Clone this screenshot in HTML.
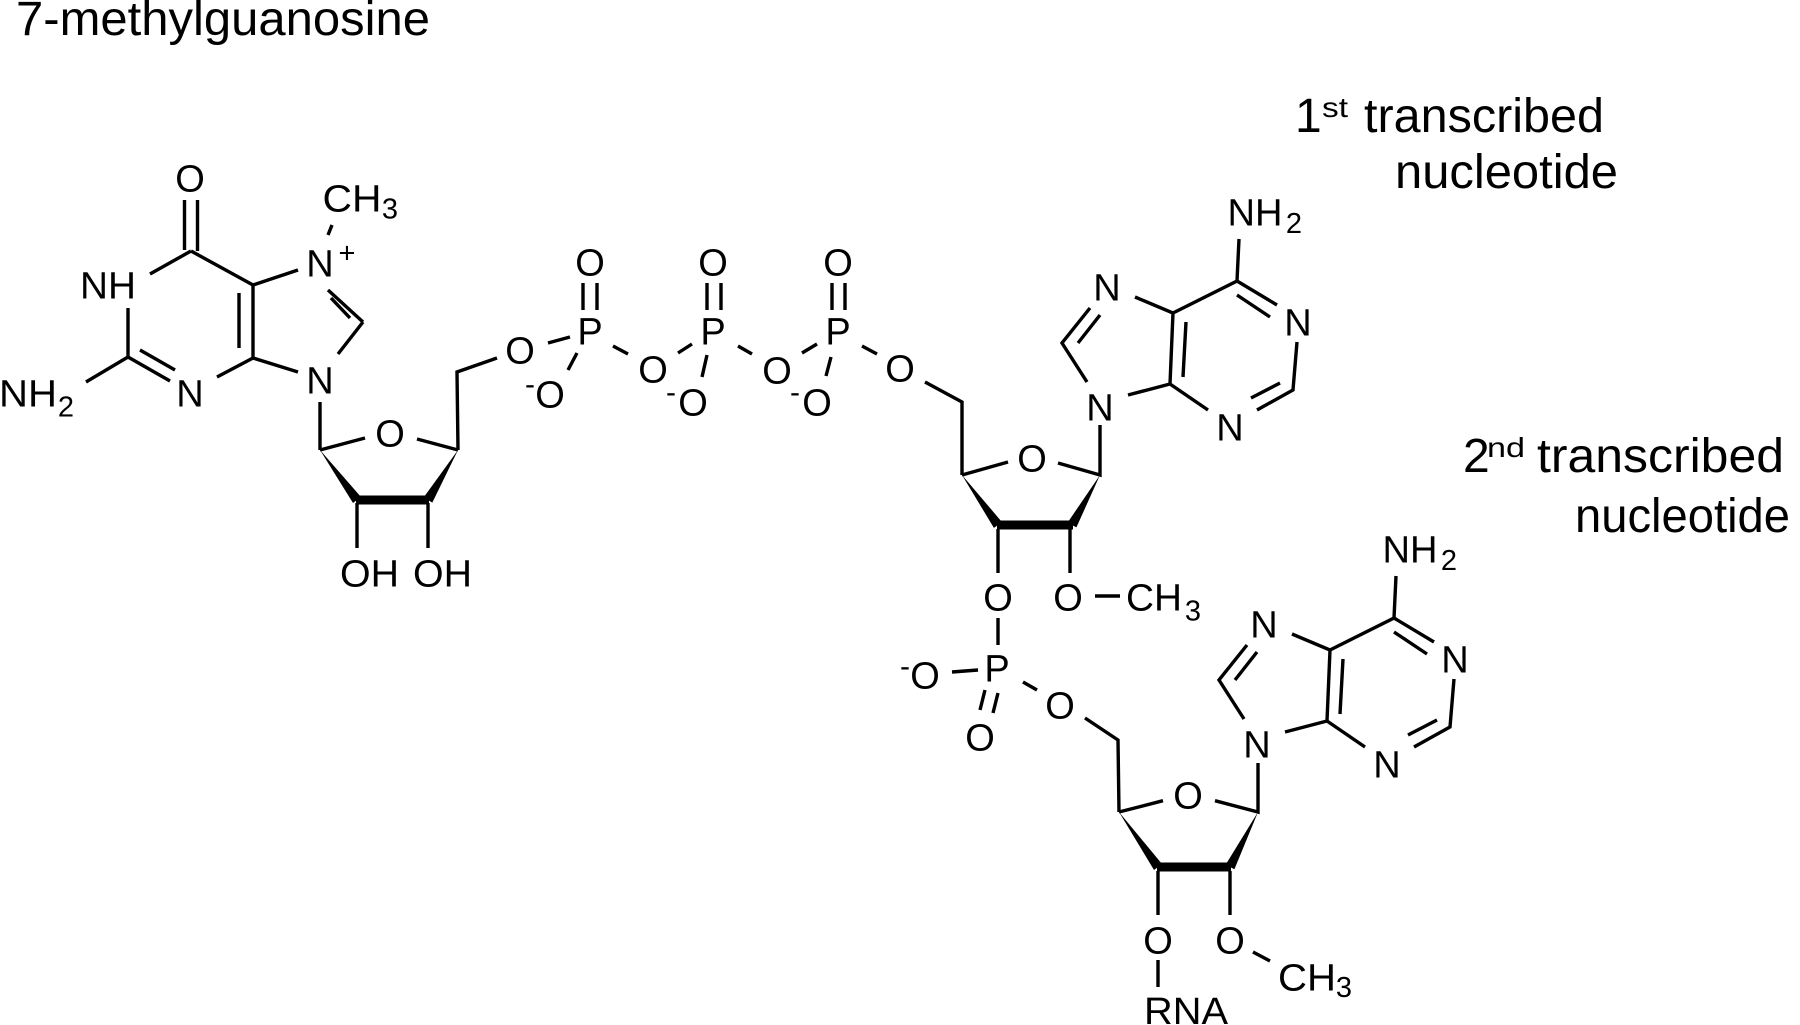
<!DOCTYPE html>
<html><head><meta charset="utf-8"><style>
html,body{margin:0;padding:0;background:#fff;}
svg{display:block;}
.a{font-family:"Liberation Sans",Arial,sans-serif;font-size:38px;text-anchor:middle;fill:#000;}
.s{font-family:"Liberation Sans",Arial,sans-serif;font-size:29px;text-anchor:middle;fill:#000;}
.c{font-family:"Liberation Sans",Arial,sans-serif;font-size:30px;text-anchor:middle;fill:#000;}
.L{font-family:"Liberation Sans",Arial,sans-serif;font-size:48px;fill:#000;}
.Ls{font-family:"Liberation Sans",Arial,sans-serif;font-size:28px;fill:#000;}
.b{fill:none;stroke:#000;stroke-width:3.4;stroke-linecap:butt;stroke-linejoin:miter;}
</style></head><body>
<svg width="1800" height="1025" viewBox="0 0 1800 1025" xmlns="http://www.w3.org/2000/svg">
<rect width="1800" height="1025" fill="#fff"/>

<!-- Titles -->
<text class="L" x="16" y="35" textLength="414" lengthAdjust="spacingAndGlyphs">7-methylguanosine</text>
<text class="L" x="1295" y="132">1</text>
<text class="Ls" x="1322" y="117" textLength="26" lengthAdjust="spacingAndGlyphs">st</text>
<text class="L" x="1364" y="132" textLength="240" lengthAdjust="spacingAndGlyphs">transcribed</text>
<text class="L" x="1395" y="188" textLength="223" lengthAdjust="spacingAndGlyphs">nucleotide</text>
<text class="L" x="1463" y="472">2</text>
<text class="Ls" x="1487" y="457" textLength="38" lengthAdjust="spacingAndGlyphs">nd</text>
<text class="L" x="1537" y="472" textLength="247" lengthAdjust="spacingAndGlyphs">transcribed</text>
<text class="L" x="1575" y="532" textLength="215" lengthAdjust="spacingAndGlyphs">nucleotide</text>

<!-- ===== 7-methylguanine ===== -->
<path class="b" d="M184.5,200 V250 M197.5,200 V251
M191,251 L150,274
M128,308 L128,357
M128,357 L170,381 M140,350 L175,370
M217,377 L253,358
M253,358 L253,285 M239,293 L239,348
M253,285 L191,251
M253,285 L298,270
M328,235 L332,225
M328,290 L363,322 M331,298 L350,318
M363,322 L338,354
M298,372 L253,358
M128,357 L86,382
M320,402 L320,450"/>
<text class="a" x="190" y="191.6">O</text>
<text class="a" x="108" y="298.6" textLength="56" lengthAdjust="spacingAndGlyphs">NH</text>
<text class="a" x="190" y="406.6">N</text>
<text class="a" x="320" y="276.6">N</text>
<text class="s" x="347" y="262.5">+</text>
<text class="a" x="352" y="211.6" textLength="59" lengthAdjust="spacingAndGlyphs">CH</text>
<text class="s" x="390" y="218.4">3</text>
<text class="a" x="320" y="393.6">N</text>
<text class="a" x="28" y="406.6" textLength="58" lengthAdjust="spacingAndGlyphs">NH</text>
<text class="s" x="66" y="416.5">2</text>

<!-- ===== Sugar 1 ===== -->
<path class="b" d="M320,450 L365,438 M417,439 L458,450 M458,450 L457,372 L497,358
M357,503 V548 M428,503 V548"/>
<polygon points="320,450 361,497 353,503" fill="#000"/>
<polygon points="458,450 432.3,502.6 423.7,497.4" fill="#000"/>
<rect x="356" y="495.5" width="73" height="9" fill="#000"/>
<text class="a" x="390" y="446.6">O</text>
<text class="a" x="340" y="586.6" style="text-anchor:start" textLength="59" lengthAdjust="spacingAndGlyphs">OH</text>
<text class="a" x="413" y="586.6" style="text-anchor:start" textLength="59" lengthAdjust="spacingAndGlyphs">OH</text>

<!-- ===== Triphosphate ===== -->
<path class="b" d="M548,343 L570,337
M583,283 V310 M597,283 V310
M577,353 L568,370
M613,346 L628,354
M678,353 L692,344
M707,283 V310 M721,283 V310
M707,355 L702,377
M738,346 L752,354
M802,353 L817,344
M832,283 V310 M845,283 V310
M831,357 L826,376
M862,346 L877,354
M925,382 L962,402 L962,475"/>
<text class="a" x="520" y="363.6">O</text>
<text class="a" x="590" y="344.6">P</text>
<text class="a" x="590" y="275.6">O</text>
<text class="a" x="550" y="407.6">O</text>
<text class="c" x="530" y="394">-</text>
<text class="a" x="653" y="382.6">O</text>
<text class="a" x="713" y="344.6">P</text>
<text class="a" x="713" y="275.6">O</text>
<text class="a" x="693" y="415.6">O</text>
<text class="c" x="671" y="402">-</text>
<text class="a" x="777" y="383.6">O</text>
<text class="a" x="838" y="344.6">P</text>
<text class="a" x="838" y="275.6">O</text>
<text class="a" x="817" y="415.6">O</text>
<text class="c" x="795" y="402">-</text>
<text class="a" x="900" y="381.6">O</text>

<!-- ===== Adenine 1 ===== -->
<g id="ade">
<path class="b" d="M1087,382 L1062,343 L1090,308 M1078,343 L1100,315
M1135,297 L1173,313 L1170,384 M1186,322 L1183,377
M1170,384 L1128,395
M1173,313 L1237,281 L1239,239
M1237,281 L1277,305 M1237,295 L1270,317
M1297,342 L1293,390 L1257,410 M1280,383 L1251,398
M1208,410 L1170,384"/>
<text class="a" x="1100" y="420.6">N</text>
<text class="a" x="1107" y="300.6">N</text>
<text class="a" x="1255" y="225.6" textLength="55" lengthAdjust="spacingAndGlyphs">NH</text>
<text class="s" x="1294" y="233">2</text>
<text class="a" x="1298" y="335.6">N</text>
<text class="a" x="1230" y="440.6">N</text>
</g>

<!-- ===== Sugar 2 ===== -->
<path class="b" d="M1100,425 L1100,475 L1058,463 M1008,462 L962,475
M998,529 V573 M1070,529 V573 M1095,596 L1120,596"/>
<polygon points="962,475 1002.1,522.2 993.9,527.9" fill="#000"/>
<polygon points="1100,475 1076.4,527.4 1067.6,522.6" fill="#000"/>
<rect x="997" y="520.5" width="76" height="9" fill="#000"/>
<text class="a" x="1032" y="471.6">O</text>
<text class="a" x="998" y="610.6">O</text>
<text class="a" x="1068" y="610.6">O</text>
<text class="a" x="1154" y="610.6" textLength="56" lengthAdjust="spacingAndGlyphs">CH</text>
<text class="s" x="1193" y="620.5">3</text>

<!-- ===== Linking phosphate ===== -->
<path class="b" d="M998,618 L998,645 M952,672 L978,670
M985,690 L980,710 M998,693 L993,713
M1023,682 L1037,690
M1085,718 L1118,740 L1119,812"/>
<text class="a" x="997" y="681.6">P</text>
<text class="a" x="925" y="688.6">O</text>
<text class="c" x="905" y="676">-</text>
<text class="a" x="980" y="750.6">O</text>
<text class="a" x="1060" y="718.6">O</text>

<!-- ===== Adenine 2 ===== -->
<g transform="translate(157,337)">
<path class="b" d="M1087,382 L1062,343 L1090,308 M1078,343 L1100,315
M1135,297 L1173,313 L1170,384 M1186,322 L1183,377
M1170,384 L1128,395
M1173,313 L1237,281 L1239,239
M1237,281 L1277,305 M1237,295 L1270,317
M1297,342 L1293,390 L1257,410 M1280,383 L1251,398
M1208,410 L1170,384"/>
<text class="a" x="1100" y="420.6">N</text>
<text class="a" x="1107" y="300.6">N</text>
<text class="a" x="1253" y="225.6" textLength="55" lengthAdjust="spacingAndGlyphs">NH</text>
<text class="s" x="1292" y="233">2</text>
<text class="a" x="1298" y="335.6">N</text>
<text class="a" x="1230" y="440.6">N</text>
</g>

<!-- ===== Sugar 3 ===== -->
<path class="b" d="M1258,763 L1258,812 L1215,800.7 M1163,800.7 L1119,812
M1158,871 V915 M1230,871 V915 M1158,960 V987 M1253,952 L1270,961"/>
<polygon points="1119,812 1162,864 1154,870" fill="#000"/>
<polygon points="1258,812 1234.4,869.3 1225.6,864.7" fill="#000"/>
<rect x="1157" y="862.5" width="74" height="9" fill="#000"/>
<text class="a" x="1188" y="808.6">O</text>
<text class="a" x="1158" y="953.6">O</text>
<text class="a" x="1230" y="953.6">O</text>
<text class="a" x="1307" y="990.6" textLength="58" lengthAdjust="spacingAndGlyphs">CH</text>
<text class="s" x="1344" y="997">3</text>
<text class="a" x="1186" y="1024" textLength="84" lengthAdjust="spacingAndGlyphs">RNA</text>
</svg>
</body></html>
